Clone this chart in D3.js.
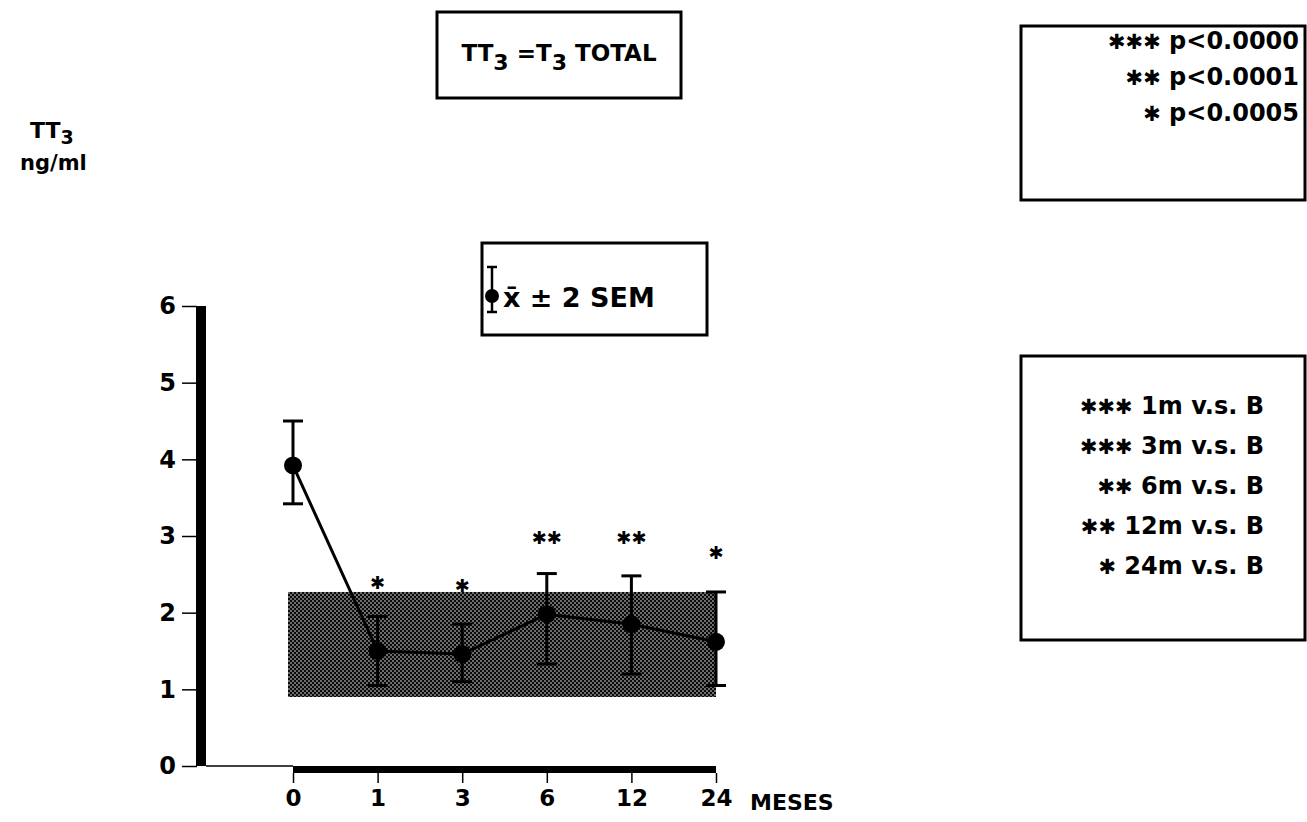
<!DOCTYPE html>
<html>
<head>
<meta charset="utf-8">
<script src="https://cdn.jsdelivr.net/npm/d3@7"></script>
<style>
  html, body { margin: 0; padding: 0; background: #fff; }
  svg { display: block; }
  text { font-family: "DejaVu Sans", sans-serif; font-weight: bold; fill: #000; }
</style>
</head>
<body>
<svg class="chart"></svg>
<script>
const months = ['0', '1', '3', '6', '12', '24']
const means = [3.92, 1.5, 1.46, 1.98, 1.85, 1.62]
const upper = [4.5, 1.95, 1.85, 2.51, 2.48, 2.27]
const lower = [3.42, 1.05, 1.1, 1.33, 1.2, 1.05]
const marks = ['', '✱', '✱', '✱✱', '✱✱', '✱']
const markLevel = [null, 2.39, 2.35, 2.98, 2.98, 2.79]
const normalRange = [0.9, 2.27]
const yTicks = [0, 1, 2, 3, 4, 5, 6]
const pLegend = [['✱✱✱', 'p<0.0000'], ['✱✱', 'p<0.0001'], ['✱', 'p<0.0005']]
const cmpLegend = [['✱✱✱', '1m v.s. B'], ['✱✱✱', '3m v.s. B'], ['✱✱', '6m v.s. B'], ['✱✱', '12m v.s. B'], ['✱', '24m v.s. B']]

const w = 1307
const h = 822
const svg = d3.select('.chart').attr('width', w).attr('height', h)

const x = d3.scalePoint().domain(months).range([293, 716])
const y = d3.scaleLinear().domain([0, 6]).range([766, 306])

// dotted fill for the normal range band
const pat = svg.append('defs').append('pattern')
  .attr('id', 'dots')
  .attr('width', 4).attr('height', 4)
  .attr('patternUnits', 'userSpaceOnUse')
pat.append('rect').attr('width', 4).attr('height', 4).attr('fill', '#0a0a0a')
pat.append('circle').attr('cx', 1).attr('cy', 1).attr('r', 0.75).attr('fill', '#fff')
pat.append('circle').attr('cx', 3).attr('cy', 3).attr('r', 0.75).attr('fill', '#fff')

svg.append('rect')
  .attr('x', x('0') - 5)
  .attr('y', y(normalRange[1]))
  .attr('width', x('24') - x('0') + 5)
  .attr('height', y(normalRange[0]) - y(normalRange[1]))
  .attr('fill', 'url(#dots)')

// y axis: thick bar + thin ticks
svg.append('rect')
  .attr('x', 196).attr('y', y(6))
  .attr('width', 10).attr('height', y(0) - y(6))
  .attr('fill', '#000')
const yAxis = d3.axisLeft(y).tickValues(yTicks).tickFormat(d3.format('d')).tickSize(15).tickPadding(6)
svg.append('g')
  .attr('transform', 'translate(197,0)')
  .call(yAxis)
  .call(g => g.select('.domain').remove())
  .call(g => g.selectAll('line').attr('stroke-width', 1.5))
  .call(g => g.selectAll('text').style('font-size', '24px').style('font-family', null))

// x axis: thin stub then thick bar
svg.append('line')
  .attr('x1', 206).attr('x2', x('0'))
  .attr('y1', y(0)).attr('y2', y(0))
  .attr('stroke', '#000').attr('stroke-width', 1.5)
svg.append('rect')
  .attr('x', x('0')).attr('y', y(0))
  .attr('width', x('24') - x('0')).attr('height', 7)
  .attr('fill', '#000')
const xAxis = d3.axisBottom(x).tickSize(10).tickPadding(7)
svg.append('g')
  .attr('transform', `translate(0,${y(0) + 7})`)
  .call(xAxis)
  .call(g => g.select('.domain').remove())
  .call(g => g.selectAll('line').attr('stroke-width', 1.5))
  .call(g => g.selectAll('text').style('font-size', '23px').style('font-family', null))

svg.append('text')
  .attr('x', 750).attr('y', 810)
  .style('font-size', '22px')
  .text('MESES')

// error bars
const data = months.map((m, i) => ({m, mean: means[i], hi: upper[i], lo: lower[i], mark: marks[i], level: markLevel[i]}))
const eb = svg.append('g').attr('stroke', '#000').attr('stroke-width', 3)
eb.selectAll('.stem').data(data).join('line')
  .attr('x1', d => x(d.m)).attr('x2', d => x(d.m))
  .attr('y1', d => y(d.hi)).attr('y2', d => y(d.lo))
eb.selectAll('.cap-hi').data(data).join('line')
  .attr('x1', d => x(d.m) - 10).attr('x2', d => x(d.m) + 10)
  .attr('y1', d => y(d.hi)).attr('y2', d => y(d.hi))
eb.selectAll('.cap-lo').data(data).join('line')
  .attr('x1', d => x(d.m) - 10).attr('x2', d => x(d.m) + 10)
  .attr('y1', d => y(d.lo)).attr('y2', d => y(d.lo))

svg.append('path')
  .datum(data)
  .attr('fill', 'none')
  .attr('stroke', '#000')
  .attr('stroke-width', 3)
  .attr('d', d3.line().x(d => x(d.m)).y(d => y(d.mean)))

svg.selectAll('.pt').data(data).join('circle')
  .attr('cx', d => x(d.m)).attr('cy', d => y(d.mean))
  .attr('r', 9).attr('fill', '#000')

svg.selectAll('.sig').data(data.filter(d => d.mark)).join('text')
  .attr('x', d => x(d.m)).attr('y', d => y(d.level))
  .attr('text-anchor', 'middle')
  .attr('dominant-baseline', 'central')
  .style('font-size', '18px')
  .text(d => d.mark)

// y label
svg.append('text').attr('x', 30).attr('y', 138).style('font-size', '22px')
  .call(t => {
    t.append('tspan').text('TT')
    t.append('tspan').attr('dy', 6).style('font-size', '19px').text('3')
  })
svg.append('text').attr('x', 20).attr('y', 170).style('font-size', '21px').text('ng/ml')

// title box
svg.append('rect').attr('x', 437).attr('y', 12).attr('width', 244).attr('height', 86)
  .attr('fill', 'none').attr('stroke', '#000').attr('stroke-width', 3)
svg.append('text').attr('x', 559).attr('y', 61).attr('text-anchor', 'middle').style('font-size', '23px')
  .call(t => {
    t.append('tspan').text('TT')
    t.append('tspan').attr('dy', 9).style('font-size', '22px').text('3')
    t.append('tspan').attr('dy', -9).text(' =T')
    t.append('tspan').attr('dy', 9).style('font-size', '22px').text('3')
    t.append('tspan').attr('dy', -9).text(' TOTAL')
  })

// SEM box
svg.append('rect').attr('x', 482).attr('y', 243).attr('width', 225).attr('height', 92)
  .attr('fill', 'none').attr('stroke', '#000').attr('stroke-width', 3)
const sym = svg.append('g').attr('stroke', '#000').attr('stroke-width', 2.5)
sym.append('line').attr('x1', 492).attr('x2', 492).attr('y1', 267).attr('y2', 312)
sym.append('line').attr('x1', 487).attr('x2', 497).attr('y1', 267).attr('y2', 267)
sym.append('line').attr('x1', 487).attr('x2', 497).attr('y1', 312).attr('y2', 312)
svg.append('circle').attr('cx', 492).attr('cy', 296).attr('r', 7).attr('fill', '#000')
svg.append('text').attr('x', 503).attr('y', 307).style('font-size', '27px').text('x̄ ± 2 SEM')

// significance legends
svg.append('rect').attr('x', 1021).attr('y', 26).attr('width', 284).attr('height', 174)
  .attr('fill', 'none').attr('stroke', '#000').attr('stroke-width', 3)
svg.selectAll('.pleg').data(pLegend).join('text')
  .attr('x', 1299).attr('y', (d, i) => 49 + i * 36)
  .attr('text-anchor', 'end')
  .style('font-size', '24px')
  .call(t => {
    t.append('tspan').style('font-size', '21px').text(d => d[0])
    t.append('tspan').text(d => '  ' + d[1])
  })

svg.append('rect').attr('x', 1021).attr('y', 356).attr('width', 284).attr('height', 284)
  .attr('fill', 'none').attr('stroke', '#000').attr('stroke-width', 3)
svg.selectAll('.cleg').data(cmpLegend).join('text')
  .attr('x', 1264).attr('y', (d, i) => 414 + i * 40)
  .attr('text-anchor', 'end')
  .style('font-size', '24px')
  .call(t => {
    t.append('tspan').style('font-size', '21px').text(d => d[0])
    t.append('tspan').text(d => ' ' + d[1])
  })
</script>
</body>
</html>
